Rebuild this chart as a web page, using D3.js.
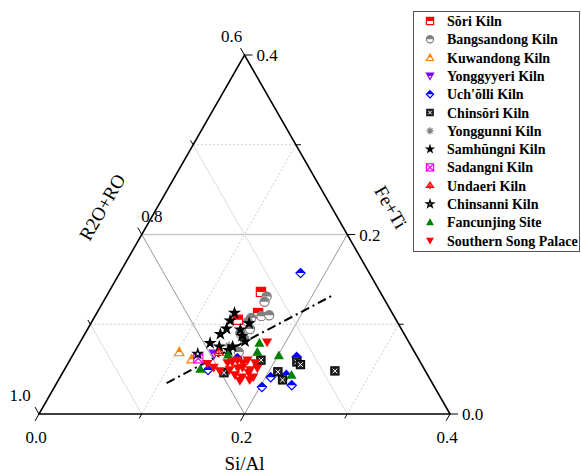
<!DOCTYPE html>
<html>
<head>
<meta charset="utf-8">
<script src="https://cdn.jsdelivr.net/npm/d3@7"></script>
<style>
  body { margin: 0; background: #fff; }
  svg, svg text { font-family: "Liberation Serif", "DejaVu Serif", serif; }
</style>
</head>
<body>
<div id="chart"></div>
<script>
// each point is [Si/Al, Fe+Ti]; R2O+RO = 1 - Si/Al - Fe+Ti
const soriKiln = [[0.148, 0.136], [0.157, 0.1125], [0.141, 0.105]];
const bangsandongKiln = [[0.156, 0.131], [0.157, 0.125], [0.162, 0.109], [0.169, 0.110], [0.153, 0.107],
  [0.152, 0.1025], [0.158, 0.0947], [0.151, 0.090], [0.158, 0.0836], [0.160, 0.069]];
const kuwandongKiln = [[0.102, 0.069], [0.118, 0.061]];
const yonggyyeriKiln = [[0.137, 0.067]];
const ucholliKiln = [[0.176, 0.157], [0.140, 0.049], [0.162, 0.062], [0.219, 0.0635], [0.205, 0.041],
  [0.219, 0.0435], [0.230, 0.032], [0.202, 0.030]];
const chinsoriKiln = [[0.157, 0.046], [0.186, 0.060], [0.222, 0.058], [0.227, 0.055], [0.209, 0.047],
  [0.218, 0.038], [0.264, 0.048]];
const yonggunniKiln = [[0.147, 0.076]];
const samhungniKiln = [[0.134, 0.1125], [0.135, 0.095], [0.132, 0.089], [0.149, 0.094], [0.154, 0.101],
  [0.154, 0.087], [0.160, 0.081], [0.127, 0.079], [0.138, 0.075], [0.149, 0.071], [0.151, 0.075], [0.134, 0.104]];
const sadangniKiln = [[0.124, 0.062]];
const undaeriKiln = [[0.141, 0.068]];
const chinsanniKiln = [[0.121, 0.067]];
const fancunjingSite = [[0.175, 0.079], [0.178, 0.069], [0.201, 0.065], [0.151, 0.066], [0.132, 0.050], [0.224, 0.0435]];
const southernSongPalace = [[0.182, 0.080], [0.136, 0.056], [0.144, 0.052], [0.152, 0.048], [0.155, 0.057],
  [0.159, 0.058], [0.163, 0.060], [0.170, 0.057], [0.173, 0.060], [0.182, 0.057], [0.161, 0.049],
  [0.168, 0.051], [0.172, 0.052], [0.181, 0.049], [0.187, 0.051], [0.169, 0.0435], [0.177, 0.041],
  [0.181, 0.046], [0.188, 0.041], [0.177, 0.037], [0.186, 0.038]];
const trendLine = [[0.107, 0.0345], [0.219, 0.1315]];

const seriesNames = ["S\u014Fri Kiln", "Bangsandong Kiln", "Kuwandong Kiln", "Yonggyyeri Kiln", "Uch'\u014Flli Kiln",
  "Chins\u014Fri Kiln", "Yonggunni Kiln", "Samh\u016Dngni Kiln", "Sadangni Kiln", "Undaeri Kiln",
  "Chinsanni Kiln", "Fancunjing Site", "Southern Song Palace"];
const seriesData = [soriKiln, bangsandongKiln, kuwandongKiln, yonggyyeriKiln, ucholliKiln, chinsoriKiln,
  yonggunniKiln, samhungniKiln, sadangniKiln, undaeriKiln, chinsanniKiln, fancunjingSite, southernSongPalace];
const seriesMarker = ["halfSquare", "halfCircle", "halfTriUp", "halfTriDown", "halfDiamond", "xSquare",
  "asterisk", "star", "crossSquare", "undaeri", "openStar", "triUp", "triDown"];
const seriesColor = ["#ff0000", "#808080", "#ff8000", "#8000ff", "#0000ff", "#000000",
  "#808080", "#000000", "#ff00ff", "#ff0000", "#000000", "#008000", "#ff0000"];

const ticks = [0, 0.1, 0.2, 0.3, 0.4];
const tickLabels = ["0.0", "0.2", "0.4"];
const rTickLabels = ["1.0", "0.8", "0.6"];

const width = 581, height = 475;
const font = "'Liberation Serif', 'DejaVu Serif', serif";
const svg = d3.select("#chart").append("svg")
  .attr("width", width).attr("height", height)
  .attr("font-family", font);

// ternary projection built on two linear scales
const x = d3.scaleLinear().domain([0, 0.4]).range([39, 450]);
const y = d3.scaleLinear().domain([0, 0.4]).range([414, 55]);
const px = (si, fe) => x(si + fe / 2);
const py = fe => y(fe);

// grid
const grid = svg.append("g");
[0.1, 0.2, 0.3].forEach(v => {
  const major = Math.abs(v - 0.2) < 1e-9;
  // Si/Al constant
  grid.append("line")
    .attr("x1", px(v, 0)).attr("y1", py(0)).attr("x2", px(v, 0.4 - v)).attr("y2", py(0.4 - v))
    .attr("stroke", major ? "#999" : "#ccc").attr("stroke-width", 1)
    .attr("stroke-dasharray", major ? null : "2,2");
  // Fe+Ti constant
  grid.append("line")
    .attr("x1", px(0, v)).attr("y1", py(v)).attr("x2", px(0.4 - v, v)).attr("y2", py(v))
    .attr("stroke", major ? "#c8c8c8" : "#ccc").attr("stroke-width", major ? 1.5 : 1)
    .attr("stroke-dasharray", major ? null : "2,2");
  // R2O+RO constant (si + fe = v)
  grid.append("line")
    .attr("x1", px(v, 0)).attr("y1", py(0)).attr("x2", px(0, v)).attr("y2", py(v))
    .attr("stroke", major ? "#999" : "#ddd").attr("stroke-width", 1);
});

// frame
const axes = svg.append("g").attr("stroke", "#000").attr("fill", "none");
axes.append("path")
  .attr("d", `M${px(0, 0)},${py(0)}L${px(0.4, 0)},${py(0)}L${px(0, 0.4)},${py(0.4)}Z`)
  .attr("stroke-width", 1.6).attr("stroke-linejoin", "miter");

ticks.forEach((v, i) => {
  const len = i % 2 === 0 ? 8 : 5;
  // bottom (Si/Al), pointing down-left
  axes.append("line")
    .attr("x1", px(v, 0)).attr("y1", py(0))
    .attr("x2", px(v, 0) - 0.5 * len).attr("y2", py(0) + 0.866 * len);
  // right (Fe+Ti), pointing right
  axes.append("line")
    .attr("x1", px(0.4 - v, v)).attr("y1", py(v))
    .attr("x2", px(0.4 - v, v) + len).attr("y2", py(v));
  // left (R2O+RO), pointing up-left
  axes.append("line")
    .attr("x1", px(0, v)).attr("y1", py(v))
    .attr("x2", px(0, v) - 0.5 * len).attr("y2", py(v) - 0.866 * len);
});

const labels = svg.append("g").attr("font-size", 17).attr("fill", "#000");
[0, 0.2, 0.4].forEach((v, i) => {
  labels.append("text").attr("x", px(v, 0) - 3).attr("y", py(0) + 29)
    .attr("text-anchor", "middle").text(tickLabels[i]);
  labels.append("text").attr("x", px(0.4 - v, v) + 12).attr("y", py(v) + 6)
    .text(tickLabels[i]);
});
// R2O+RO labels
const rOffsets = [[-19, -13], [10, -13], [-13, -13]];
[0, 0.2, 0.4].forEach((v, i) => {
  labels.append("text").attr("x", px(0, v) + rOffsets[i][0]).attr("y", py(v) + rOffsets[i][1])
    .attr("text-anchor", "middle").text(rTickLabels[i]);
});

// axis titles
const titles = svg.append("g").attr("font-size", 19).attr("fill", "#000").attr("text-anchor", "middle");
titles.append("text").attr("x", px(0.2, 0)).attr("y", 470).text("Si/Al");
titles.append("text").attr("transform", `translate(${px(0, 0.2) - 34},${py(0.2) - 24}) rotate(-60)`)
  .text("R2O+RO");
titles.append("text").attr("transform", `translate(${px(0.2, 0.2) + 38},${py(0.2) - 24}) rotate(60)`)
  .text("Fe+Ti");

// trend line
svg.append("line")
  .attr("x1", px(trendLine[0][0], trendLine[0][1])).attr("y1", py(trendLine[0][1]))
  .attr("x2", px(trendLine[1][0], trendLine[1][1])).attr("y2", py(trendLine[1][1]))
  .attr("stroke", "#000").attr("stroke-width", 2).attr("stroke-dasharray", "9,4,2,4");

// marker drawing
function drawMarker(g, type, color, s) {
  const h = 0.556 * s;
  switch (type) {
    case "halfSquare":
      g.append("rect").attr("x", -s).attr("y", -s).attr("width", 2 * s).attr("height", 2 * s)
        .attr("fill", "#fff").attr("stroke", color).attr("stroke-width", 1.2);
      g.append("rect").attr("x", -s).attr("y", -s).attr("width", 2 * s).attr("height", s).attr("fill", color);
      break;
    case "halfCircle":
      g.append("circle").attr("r", s).attr("fill", "#fff").attr("stroke", color).attr("stroke-width", 1.2);
      g.append("path").attr("d", `M${-s},0A${s},${s} 0 0 1 ${s},0Z`).attr("fill", color);
      break;
    case "halfTriUp":
      g.append("path").attr("d", `M0,${-s}L${s},${0.8 * s}L${-s},${0.8 * s}Z`)
        .attr("fill", "#fff").attr("stroke", color).attr("stroke-width", 1.2);
      g.append("path").attr("d", `M0,${-s}L${h},0L${-h},0Z`).attr("fill", color);
      break;
    case "halfTriDown":
      g.append("path").attr("d", `M${-s},${-0.8 * s}L${s},${-0.8 * s}L0,${s}Z`)
        .attr("fill", "#fff").attr("stroke", color).attr("stroke-width", 1.2);
      g.append("path").attr("d", `M${-s},${-0.8 * s}L${s},${-0.8 * s}L${h},0L${-h},0Z`).attr("fill", color);
      break;
    case "halfDiamond":
      g.append("path").attr("d", `M0,${-s}L${s},0L0,${s}L${-s},0Z`)
        .attr("fill", "#fff").attr("stroke", color).attr("stroke-width", 1.2);
      g.append("path").attr("d", `M0,${-s}L${s},0L${-s},0Z`).attr("fill", color);
      break;
    case "xSquare":
      g.append("rect").attr("x", -s * 0.9).attr("y", -s * 0.9).attr("width", 1.8 * s).attr("height", 1.8 * s)
        .attr("fill", "#222").attr("stroke", "#000");
      g.append("path").attr("d", `M${-s * 0.5},${-s * 0.5}L${s * 0.5},${s * 0.5}M${s * 0.5},${-s * 0.5}L${-s * 0.5},${s * 0.5}`)
        .attr("stroke", "#fff").attr("stroke-width", 1);
      break;
    case "asterisk":
      g.append("path")
        .attr("d", `M${-s},0L${s},0M0,${-s}L0,${s}M${-0.7 * s},${-0.7 * s}L${0.7 * s},${0.7 * s}M${0.7 * s},${-0.7 * s}L${-0.7 * s},${0.7 * s}`)
        .attr("stroke", color).attr("stroke-width", 1.2);
      break;
    case "star":
      g.append("path").attr("d", d3.symbol(d3.symbolStar, s * s * 2.6)()).attr("fill", color);
      break;
    case "openStar":
      g.append("path").attr("d", d3.symbol(d3.symbolStar, s * s * 1.1)())
        .attr("fill", "#fff").attr("stroke", color).attr("stroke-width", 1.5);
      break;
    case "crossSquare":
      g.append("rect").attr("x", -s).attr("y", -s).attr("width", 2 * s).attr("height", 2 * s)
        .attr("fill", "#fff").attr("stroke", color).attr("stroke-width", 1.2);
      g.append("path").attr("d", `M${-s},${-s}L${s},${s}M${s},${-s}L${-s},${s}`)
        .attr("stroke", color).attr("stroke-width", 1.2);
      break;
    case "undaeri":
      g.append("path").attr("d", `M0,${-s}L${s},${0.5 * s}L${-s},${0.5 * s}Z`)
        .attr("fill", "#fff").attr("stroke", color).attr("stroke-width", 1.2);
      g.append("path").attr("d", `M0,${-s}L0,${s}M${-0.7 * s},${0.1 * s}L${0.7 * s},${0.1 * s}`)
        .attr("stroke", color).attr("stroke-width", 1.2);
      break;
    case "triUp":
      g.append("path").attr("d", `M0,${-1.1 * s}L${1.1 * s},${0.8 * s}L${-1.1 * s},${0.8 * s}Z`).attr("fill", color);
      break;
    case "triDown":
      g.append("path").attr("d", `M${-1.1 * s},${-0.8 * s}L${1.1 * s},${-0.8 * s}L0,${1.1 * s}Z`).attr("fill", color);
      break;
  }
}

// points
const pts = svg.append("g");
seriesData.forEach((data, k) => {
  data.forEach(d => {
    const g = pts.append("g").attr("transform", `translate(${px(d[0], d[1])},${py(d[1])})`);
    drawMarker(g, seriesMarker[k], seriesColor[k], 4.6);
  });
});

// legend
const legend = svg.append("g").attr("transform", "translate(413,11)");
legend.append("rect").attr("x", 0.5).attr("y", 0.5).attr("width", 166).attr("height", 240)
  .attr("fill", "#fff").attr("stroke", "#555").attr("stroke-width", 1);
seriesNames.forEach((name, k) => {
  const row = legend.append("g").attr("transform", `translate(0,${10 + k * 18.3})`);
  drawMarker(row.append("g").attr("transform", "translate(17,0)"), seriesMarker[k], seriesColor[k], 3.6);
  row.append("text").attr("x", 34).attr("y", 5).attr("font-size", 14).attr("font-weight", "bold")
    .attr("font-family", font).attr("fill", "#000").text(name);
});
</script>
</body>
</html>
